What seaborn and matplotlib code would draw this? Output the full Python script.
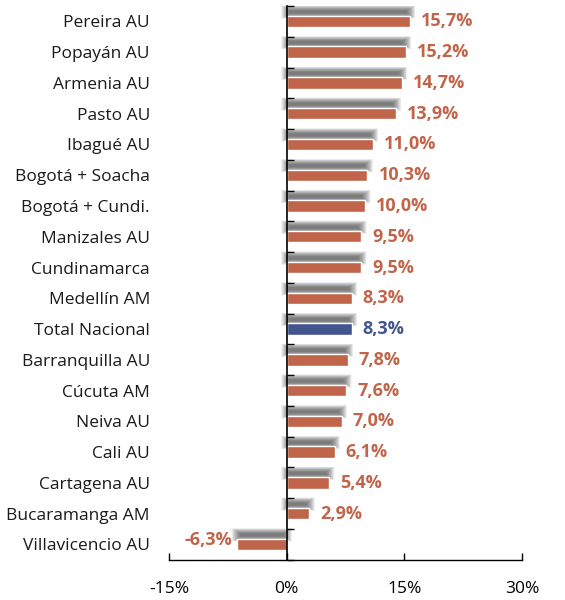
# Variación por ciudad - barras horizontales con sombra
import numpy as np
import pandas as pd
import matplotlib
matplotlib.use("Agg")
import matplotlib.pyplot as plt
import seaborn as sns

# Datos
ciudades = ["Pereira AU", "Popayán AU", "Armenia AU", "Pasto AU", "Ibagué AU",
            "Bogotá + Soacha", "Bogotá + Cundi.", "Manizales AU", "Cundinamarca",
            "Medellín AM", "Total Nacional", "Barranquilla AU", "Cúcuta AM",
            "Neiva AU", "Cali AU", "Cartagena AU", "Bucaramanga AM",
            "Villavicencio AU"]
valores = [15.7, 15.2, 14.7, 13.9, 11.0, 10.3, 10.0, 9.5, 9.5, 8.3, 8.3,
           7.8, 7.6, 7.0, 6.1, 5.4, 2.9, -6.3]
ticks_x = [-15, 0, 15, 30]

naranja = "#C0654A"
azul = "#42558E"
colores = [azul if c == "Total Nacional" else naranja for c in ciudades]

df = pd.DataFrame({"ciudad": ciudades, "valor": valores})

sns.set_style("white")
plt.rcParams['font.family'] = ['Open Sans', 'DejaVu Sans']

fig = plt.figure(figsize=(5.65, 6), dpi=100)
ax = fig.add_axes([0.299, 0.067, 0.625, 0.923])

# sombra difusa: capas translúcidas que crecen desde el centro
pos = np.arange(len(ciudades))
v = np.array(valores)
n_capas = 26
for k in range(n_capas):
    f = k / (n_capas - 1)
    ex = -0.4 + 1.1 * f
    izq = np.minimum(v, 0) - ex
    ancho = np.maximum(np.abs(v) + 2 * ex, 0.1)
    ax.barh(pos - 0.31, ancho, left=izq, height=0.08 + 0.36 * f,
            color="#333333", alpha=0.035, linewidth=0, zorder=1)

sns.barplot(data=df, x="valor", y="ciudad", hue="ciudad", palette=colores,
            legend=False, width=0.37, saturation=1, ax=ax, zorder=2)

# etiquetas de valores
for i, (val, c) in enumerate(zip(valores, colores)):
    txt = f"{val:.1f}%".replace(".", ",")
    if val >= 0:
        ax.text(val + 1.4, i, txt, ha="left", va="center", color=c,
                fontsize=13, fontweight="bold", zorder=3)
    else:
        ax.text(val - 0.6, i - 0.15, txt, ha="right", va="center", color=c,
                fontsize=13, fontweight="bold", zorder=3)

ax.set_xlim(-15, 30)
ax.set_ylim(len(ciudades) - 0.5, -0.5)
ax.set_xticks(ticks_x)
ax.set_xticklabels([f"{t}%" for t in ticks_x])
ax.set_xlabel("")
ax.set_ylabel("")
ax.tick_params(axis="x", direction="in", length=5, width=1, labelsize=12.5,
               pad=15, colors="black", bottom=True)

# eje vertical en cero con marcas entre categorías
ax.spines["left"].set_position(("data", 0))
ax.spines["left"].set_color("black")
ax.spines["left"].set_linewidth(1.2)
ax.spines["left"].set_zorder(4)
ax.set_yticks(np.arange(len(ciudades) + 1) - 0.5)
ax.set_yticklabels([])
ax.tick_params(axis="y", direction="in", length=5, width=1, colors="black",
               left=True)

# nombres de las ciudades a la izquierda del área del gráfico
for i, nombre in enumerate(ciudades):
    ax.text(-19 / 353, i, nombre, transform=ax.get_yaxis_transform(),
            ha="right", va="center_baseline", fontsize=12.5, color="#1a1a1a")

for lado in ["right", "top"]:
    ax.spines[lado].set_visible(False)
ax.spines["bottom"].set_color("black")
ax.spines["bottom"].set_linewidth(1)

plt.savefig("out.png", dpi=100)
